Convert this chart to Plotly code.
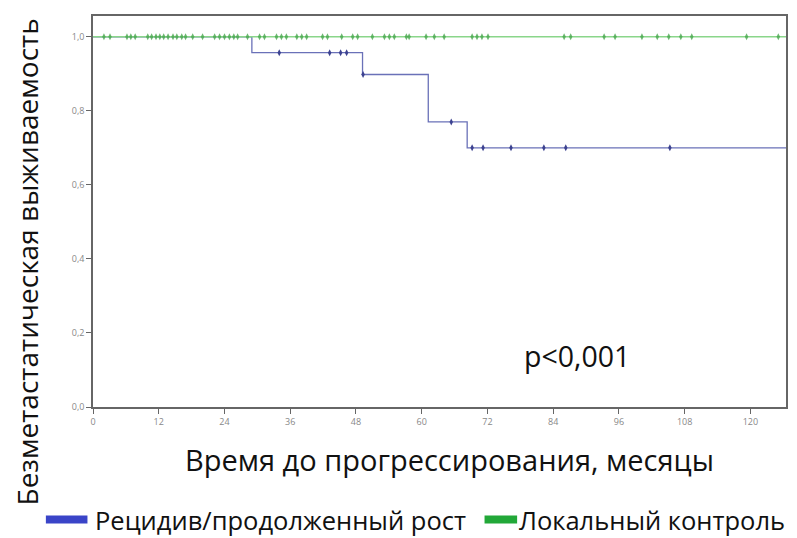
import plotly.graph_objects as go

# Kaplan-Meier step data (months, survival)
relapse_times = [0, 29.0, 49.2, 61.2, 68.3, 130]
relapse_surv = [1.0, 0.957, 0.898, 0.770, 0.700, 0.700]
relapse_cens_t = [34.0, 43.2, 45.2, 46.3, 49.3, 65.4, 69.2, 71.2, 76.3, 82.3, 86.3, 105.3]
relapse_cens_s = [0.957, 0.957, 0.957, 0.957, 0.898, 0.770, 0.700, 0.700, 0.700, 0.700, 0.700, 0.700]

local_times = [0, 130]
local_surv = [1.0, 1.0]
local_cens_t = [2.0, 3.1, 6.2, 6.9, 7.7, 10.0, 10.7, 11.5, 12.2, 12.9, 13.7, 14.6, 15.3, 16.2,
                16.9, 18.2, 20.0, 22.2, 23.1, 24.0, 24.9, 25.7, 26.4, 28.2, 30.4, 31.3, 33.5,
                34.4, 35.3, 37.2, 38.1, 39.0, 41.9, 42.8, 45.4, 47.4, 48.3, 51.0, 53.2, 54.1,
                55.0, 57.2, 57.7, 60.8, 62.3, 64.1, 69.2, 70.1, 71.0, 72.1, 86.0, 87.2, 93.3,
                95.3, 100.2, 103.0, 105.1, 107.3, 109.3, 119.3, 125.1]
local_cens_s = [1.0] * len(local_cens_t)

x_ticks = [0, 12, 24, 36, 48, 60, 72, 84, 96, 108, 120]
y_ticks = [0.0, 0.2, 0.4, 0.6, 0.8, 1.0]

blue_line = "#6a71b8"
blue_mark = "#3c4290"
green_line = "#8ad68a"
green_mark = "#46a64c"

fig = go.Figure()
fig.add_trace(go.Scatter(x=relapse_times, y=relapse_surv, mode="lines", line_shape="hv",
                         line=dict(color=blue_line, width=1.3), showlegend=False, hoverinfo="skip"))
fig.add_trace(go.Scatter(x=relapse_cens_t, y=relapse_cens_s, mode="markers",
                         marker=dict(symbol="diamond-tall", size=5, color=blue_mark),
                         showlegend=False))
fig.add_trace(go.Scatter(x=local_times, y=local_surv, mode="lines", line_shape="hv",
                         line=dict(color=green_line, width=1.3), showlegend=False, hoverinfo="skip"))
fig.add_trace(go.Scatter(x=local_cens_t, y=local_cens_s, mode="markers",
                         marker=dict(symbol="diamond-tall", size=5, color=green_mark, opacity=0.8),
                         showlegend=False))

font = "Open Sans, Noto Sans, sans-serif"
fig.update_layout(
    width=797, height=538,
    margin=dict(l=93, r=9, t=16, b=131),
    paper_bgcolor="white", plot_bgcolor="white",
    separators=", ",
    font=dict(family=font, color="#111"),
    xaxis=dict(range=[0, 126.5], tickvals=x_ticks, ticks="outside", ticklen=5,
               tickcolor="#666", showgrid=False, zeroline=False, showline=True,
               linecolor="#666", linewidth=1.5, mirror=True,
               tickfont=dict(size=9, color="#888")),
    yaxis=dict(range=[0, 1.056], tickvals=y_ticks, tickformat=".1f", ticks="outside",
               ticklen=5, tickcolor="#666", showgrid=False, zeroline=False, showline=True,
               linecolor="#666", linewidth=1.5, mirror=True,
               tickfont=dict(size=9, color="#888")),
)

fig.add_annotation(text="Время до прогрессирования, месяцы", xref="paper", yref="paper",
                   x=0.514, y=-0.135, xanchor="center", yanchor="middle", showarrow=False,
                   font=dict(size=29, color="#111", family=font))
fig.add_annotation(text="Безметастатическая выживаемость", xref="paper", yref="paper",
                   x=-0.095, xanchor="center", y=0.37, yanchor="middle", textangle=-90,
                   showarrow=False, font=dict(size=28, color="#111", family=font))
fig.add_annotation(text="p<0,001", xref="paper", yref="paper", x=0.698, y=0.13,
                   xanchor="center", yanchor="middle", showarrow=False,
                   font=dict(size=28.5, color="#111", family=font))

# legend
leg_y = -0.288
fig.add_shape(type="line", xref="paper", yref="paper", x0=-0.068, x1=-0.008, y0=leg_y, y1=leg_y,
              line=dict(color="#3a44c8", width=8))
fig.add_annotation(text="Рецидив/продолженный рост", xref="paper", yref="paper", x=0.002, y=leg_y,
                   xanchor="left", yanchor="middle", showarrow=False, borderpad=0,
                   font=dict(size=25.5, color="#111", family=font))
fig.add_shape(type="line", xref="paper", yref="paper", x0=0.565, x1=0.612, y0=leg_y, y1=leg_y,
              line=dict(color="#22a838", width=8))
fig.add_annotation(text="Локальный контроль", xref="paper", yref="paper", x=0.613, y=leg_y,
                   xanchor="left", yanchor="middle", showarrow=False, borderpad=0,
                   font=dict(size=25.5, color="#111", family=font))

fig.write_html("out.html")
